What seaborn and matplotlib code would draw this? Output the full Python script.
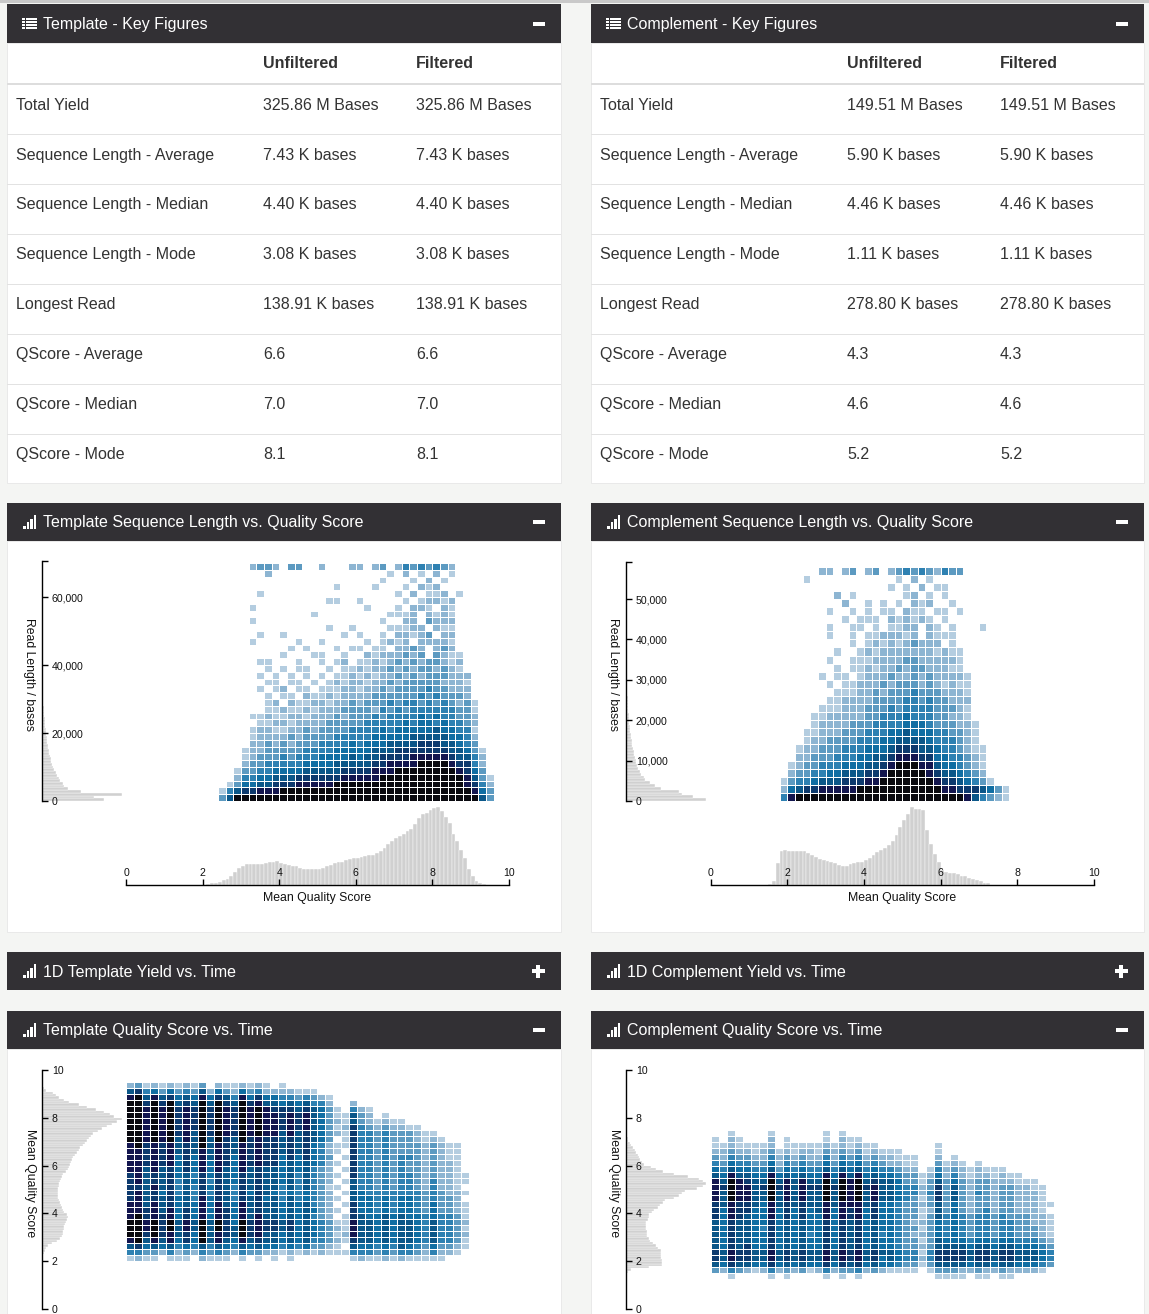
import numpy as np
import pandas as pd
import matplotlib
matplotlib.use("Agg")
import matplotlib.pyplot as plt
from matplotlib.colors import ListedColormap
from matplotlib.patches import Rectangle
import seaborn as sns

# ---------------------------------------------------------------- data
TABLE_ROWS = ["Total Yield", "Sequence Length - Average", "Sequence Length - Median",
              "Sequence Length - Mode", "Longest Read", "QScore - Average",
              "QScore - Median", "QScore - Mode"]
TABLE_COLS = ["Unfiltered", "Filtered"]
TPL_UNFILTERED = ["325.86 M Bases", "7.43 K bases", "4.40 K bases", "3.08 K bases",
                  "138.91 K bases", "6.6", "7.0", "8.1"]
TPL_FILTERED = list(TPL_UNFILTERED)
CMP_UNFILTERED = ["149.51 M Bases", "5.90 K bases", "4.46 K bases", "1.11 K bases",
                  "278.80 K bases", "4.3", "4.6", "5.2"]
CMP_FILTERED = list(CMP_UNFILTERED)

TITLES_LEFT = ["Template - Key Figures", "Template Sequence Length vs. Quality Score",
               "1D Template Yield vs. Time", "Template Quality Score vs. Time"]
TITLES_RIGHT = ["Complement - Key Figures", "Complement Sequence Length vs. Quality Score",
                "1D Complement Yield vs. Time", "Complement Quality Score vs. Time"]

# Template length-vs-quality 2D histogram (rows: top 68-70k ... bottom 0-2k; cols q 2.4..9.6 step 0.2)
TPL_HEAT_Q0, TPL_HEAT_QBIN, TPL_HEAT_LBIN = 2.4, 0.2, 2000
TPL_HEAT = [
    "000023 320330 020002 202302 434343 200000",
    "000000 200000 000000 000010 201020 100000",
    "000000 000000 000000 000100 010201 000000",
    "000000 000000 000100 001000 102120 000000",
    "000001 000000 000000 000001 020112 010000",
    "000000 000000 001100 100000 101221 200000",
    "000010 000000 000000 010001 022102 100000",
    "000000 000000 100000 000011 120212 100000",
    "000010 000000 000000 000100 220322 200000",
    "000000 000000 001001 000011 122021 100000",
    "000001 001000 000010 100102 212302 200000",
    "000010 000010 010000 010121 202222 100000",
    "000000 000101 000101 101102 232023 200000",
    "000000 001000 110010 021222 323032 110000",
    "000001 100010 010120 112123 232332 120000",
    "000000 101011 001011 212232 323323 210000",
    "000001 010101 010112 121223 232333 222000",
    "000000 110110 101212 212232 333332 221000",
    "000001 012011 011122 122323 333433 222000",
    "000000 101102 112122 223333 334343 332000",
    "000000 120211 221223 233343 443434 323100",
    "000000 112112 122233 332434 344444 433100",
    "000011 211221 222323 334344 445454 433200",
    "000001 122122 223333 344444 545545 443200",
    "000012 211223 233334 444545 555565 544100",
    "000012 222323 333444 445555 566666 554200",
    "000022 323233 344445 455566 667776 654300",
    "000122 333334 444555 556667 777777 665310",
    "000123 334344 455556 566777 788888 766420",
    "000233 444445 555666 667788 889999 877420",
    "001334 455556 666677 778889 999999 987530",
    "002445 566677 777788 888999 999999 998631",
    "013556 677788 888999 999999 999999 998742",
    "146778 889999 999999 999999 999999 999853",
    "369999 999999 999999 999999 999999 999963",
]

# Complement length-vs-quality 2D histogram (rows: top 56-58k ... 0-2k; cols q 1.6..8.0 step 0.2)
CMP_HEAT_Q0, CMP_HEAT_QBIN, CMP_HEAT_LBIN = 1.6, 0.2, 2000
CMP_HEAT = [
    "00000022 02302302 34343243 30000000",
    "00001000 00000000 10201000 00000000",
    "00000000 00000001 01020110 00000000",
    "00000000 20100000 01201010 00000000",
    "00000000 02001010 10212001 00000000",
    "00000001 00101011 02110110 10000000",
    "00000000 01011102 12121010 00000000",
    "00000001 00110101 12202101 00010000",
    "00000001 00101122 21202111 00000000",
    "00000000 00101212 12322201 00000000",
    "00000000 10012122 22222121 10000000",
    "00000001 00111222 23322222 10000000",
    "00000000 10112122 32332221 10000000",
    "00000010 11012223 22323222 21000000",
    "00000001 01122232 33323212 11000000",
    "00000000 11122323 33433322 21000000",
    "00000001 12222333 34434332 22000000",
    "00000011 12223334 34444333 21000000",
    "00000112 22223344 45444332 21000000",
    "00000122 22333444 45554333 22100000",
    "00001122 23334445 56555443 32100000",
    "00001223 33344455 66665444 32100000",
    "00012233 34445556 77766544 32110000",
    "00022333 44455667 88877554 43210000",
    "00123344 45556678 99988655 43210000",
    "00233445 56667789 99998766 54320000",
    "01344566 67778899 99999877 65431000",
    "02567788 88899999 99999988 77765310",
    "04899999 99999999 99999999 98643210",
]

# Read-length marginal histograms (bar lengths)
TPL_LEN_BIN = 800
TPL_LEN_HIST = [58, 49, 75, 37, 24, 21, 20, 17, 16, 14, 13, 11.5, 10.5, 9.5, 8.7, 8, 7.4, 6.8,
                6.3, 5.8, 5.4, 5.0, 4.7, 4.4, 4.1, 3.8, 3.5, 3.2, 2.9, 2.6, 2.4, 2.1, 1.9, 1.7,
                1.5, 1.3, 1.2, 1.0, 0.9, 0.8, 0.7, 0.6, 0.5, 0.45, 0.4, 0.35, 0.3, 0.25, 0.2, 0.2]
CMP_LEN_BIN = 700
CMP_LEN_HIST = [74, 62, 52, 49, 32, 27, 22, 18, 17, 14, 12.5, 11.5, 10.5, 9.5, 8.8, 8.2, 7.6, 7,
                6.5, 6, 5.6, 5.2, 4.8, 4.4, 4.1, 3.8, 3.5, 3.2, 2.9, 2.7, 2.5, 2.3, 2.1, 1.9, 1.7,
                1.5, 1.4, 1.2, 1.1, 1.0, 0.9, 0.8, 0.7, 0.6, 0.5, 0.4, 0.35, 0.3, 0.25, 0.2]

# Mean-quality marginal histograms (q bins of 0.1)
Q_BIN = 0.1
TPL_Q_START = 2.1
TPL_Q_HIST = [1, 2, 3, 4, 6, 8, 11, 17, 22, 25,
              27, 27, 27, 27, 27, 28, 29, 30, 31, 28,
              27, 26, 25, 24, 22, 21, 21, 20, 21, 20,
              22, 24, 26, 28, 29, 30, 32, 33, 34, 35,
              36, 37, 38, 39, 41, 44, 48, 52, 56, 60,
              63, 66, 69, 72, 78, 86, 91, 92, 96, 99,
              100, 95, 87, 79, 66, 56, 45, 34, 20, 11,
              5, 2, 1]
CMP_Q_START = 1.5
CMP_Q_HIST = [1, 5, 28, 44, 45, 43, 44, 43, 43, 43,
              41, 39, 36, 33, 32, 31, 30, 28, 26, 24,
              25, 27, 28, 29, 30, 32, 35, 38, 42, 45,
              48, 51, 57, 64, 74, 83, 91, 100, 98, 97,
              96, 70, 52, 40, 30, 19, 17, 16, 15, 14,
              12, 11, 9, 8, 7, 5, 3, 2]

# Quality-vs-time: quality marginal histograms
TPL_QT_Q_START = 2.1
TPL_QT_HIST = [0.5, 1, 1.5, 2.5, 4, 6, 10, 15, 18, 20,
               20.5, 21, 21.5, 22, 23, 24, 25, 26, 25, 22,
               21, 20, 19, 18, 17, 16, 16, 16, 16, 16,
               16.5, 17, 18, 19, 20, 21, 23.5, 26, 27, 28,
               29, 30, 31, 33, 35, 36.5, 38, 41, 43, 45,
               47, 49, 51, 56, 60, 65, 70, 75, 80, 72,
               68, 62, 54, 45, 37, 27, 22, 17, 14, 11,
               4, 2, 1]
CMP_QT_Q_START = 1.4
CMP_QT_HIST = [0.5, 2, 5, 23, 36, 36, 36, 35, 35, 35,
               35, 32, 30, 27, 24, 23, 21, 21, 21, 20,
               20, 20, 20, 22, 23, 23, 26, 28, 32, 34,
               37, 39, 48, 53, 56, 59, 71, 77, 80, 77,
               73, 62, 48, 37, 30, 25, 18, 16, 14, 13,
               12, 10, 9, 7, 5, 4, 2, 1.5, 1, 0.5]

# Quality-vs-time 2D histograms, one string per 1-hour column, quality bins 0.25 (bottom -> top)
TIME_BIN = 1.0
TIME_MAX = 48
TPL_QT_Q0, QT_QBIN = 1.75, 0.25
TPL_QT_COLS = [
    "01468 99988 87777 78888 89999 99986 2",
    "02479 99998 88878 88888 99999 99997 3",
    "01356 78877 66666 66777 78888 88764 1",
    "01368 99988 87787 78888 89999 99985 2",
    "00256 77776 66566 66777 78888 88763 1",
    "01468 89988 77777 77888 89999 99975 2",
    "01245 66655 55444 55556 66777 77653 1",
    "01357 78877 66666 67777 78888 88764 2",
    "00245 56655 54445 45556 66677 77653 1",
    "02469 99988 88777 78888 99999 99986 3",
    "01346 66655 55454 55566 66777 77652 0",
    "01468 89988 87777 78888 89999 99975 2",
    "01356 77777 66666 66777 77888 88763 1",
    "00245 66555 54445 55556 66777 77642 1",
    "01468 99988 87777 78888 89999 99985 2",
    "00356 77766 66566 66777 77888 88753 1",
    "01367 88887 77777 77888 88999 99874 2",
    "00256 67766 65666 66777 77888 88652 1",
    "01256 67766 66566 66777 77888 87652 0",
    "00145 56655 54445 55556 66677 77542 1",
    "01256 67766 66566 66677 77888 87642 0",
    "00145 55555 54444 45556 66677 76531 0",
    "00256 66666 65566 66677 77788 87641 0",
    "00134 55545 44444 44555 56666 66431 0",
    "00234 44433 33333 33444 45555 55420 0",
    "00123 33322 22212 22232 23333 33210 0",
    "00112 12101 01010 10101 10212 11000 0",
    "00101 21110 10101 01010 11121 10000 0",
    "01467 88877 76666 77777 77776 64200 0",
    "02456 66665 55544 44444 44443 32000 0",
    "01456 66655 55444 44444 44432 21000 0",
    "01345 55554 44433 33333 33321 00000 0",
    "02456 66665 55444 44444 44432 10000 0",
    "01345 55554 44433 33333 33321 00000 0",
    "02466 66665 55444 44443 33321 00000 0",
    "01456 66655 55444 43343 33310 00000 0",
    "01345 55554 44433 33333 32210 00000 0",
    "01234 44443 33322 22222 21100 00000 0",
    "01456 66655 54444 33333 32100 00000 0",
    "01234 44443 33322 22222 21000 00000 0",
    "00234 44443 33222 22211 10000 00000 0",
    "00123 33332 22211 11111 10000 00000 0",
    "00011 21211 10101 10000 00000 00000 0",
]
CMP_QT_Q0 = 1.25
CMP_QT_COLS = [
    "03677 66666 77788 88654 32110 0",
    "02566 55555 55666 76543 22100 0",
    "14788 77777 88899 99865 43221 0",
    "03677 66666 77788 88654 32110 0",
    "02677 76666 67788 87654 32100 0",
    "01566 55555 55666 66543 21100 0",
    "02566 55545 55566 76543 22100 0",
    "14788 77777 88899 99865 43221 0",
    "02566 55555 55666 76532 21000 0",
    "13677 66666 77788 88654 32110 0",
    "02566 55555 55666 66543 21100 0",
    "03677 66666 77788 88654 32100 0",
    "01566 55455 55666 76543 22100 0",
    "02566 55555 56666 76543 21100 0",
    "14788 77777 88899 99865 43211 0",
    "02566 55555 55666 76543 22100 0",
    "13788 77777 88899 99865 43221 0",
    "03677 66666 77888 88654 32110 0",
    "14788 77777 88899 99865 43210 0",
    "02566 55555 55666 76543 21100 0",
    "03677 66666 77788 87654 32100 0",
    "02556 55455 55566 66543 21000 0",
    "01566 55555 55566 66542 21000 0",
    "01455 44444 44455 55432 11000 0",
    "01344 33333 33344 43321 10000 0",
    "01344 33232 33334 43321 10000 0",
    "00121 21212 11212 21100 00000 0",
    "01344 33333 32334 33210 00000 0",
    "13677 66555 66677 76543 21100 0",
    "13677 65444 43333 33221 00000 0",
    "13677 65555 55566 65432 10000 0",
    "12677 65444 43333 33221 00000 0",
    "02566 54333 32222 22110 00000 0",
    "13677 65444 43334 33221 00000 0",
    "12677 65444 44333 33210 00000 0",
    "02566 54333 32222 22110 00000 0",
    "13677 65444 43333 32210 00000 0",
    "12677 65444 33333 32100 00000 0",
    "02566 54333 32222 21100 00000 0",
    "02566 54333 32222 21000 00000 0",
    "02566 54332 22222 11000 00000 0",
    "01455 43222 21111 10000 00000 0",
    "00344 32111 10100 00000 00000 0",
]

Q_TICKS = [0, 2, 4, 6, 8, 10]
TPL_LEN_TICKS = [0, 20000, 40000, 60000]
CMP_LEN_TICKS = [0, 10000, 20000, 30000, 40000, 50000]

# ---------------------------------------------------------------- style
sns.set_theme(style="white")
plt.rcParams['font.family'] = ['Liberation Sans', 'DejaVu Sans']

HDR = '#323034'
GREY = '#d0d0d0'
TXT = '#333333'
CMAP = ListedColormap(['#b4cde0', '#8db5d2', '#5c9ac1', '#2e81b2', '#106ea3',
                       '#0b5789', '#0d3a6e', '#13164f', '#09090f'])

W, H = 1149, 1314
fig = plt.figure(figsize=(W / 100, H / 100), dpi=100)
fig.patch.set_facecolor('#f4f5f3')


def box(x0, y0, x1, y1):
    return [x0 / W, 1 - y1 / H, (x1 - x0) / W, (y1 - y0) / H]


bg = fig.add_axes([0, 0, 1, 1])
bg.set_xlim(0, W)
bg.set_ylim(H, 0)
bg.set_axis_off()


def rect(x, y, w, h, c, ec='none', lw=0):
    bg.add_patch(Rectangle((x, y), w, h, facecolor=c, edgecolor=ec, lw=lw))


rect(0, 0, W, 3, '#c9c9c9')

HEADERS = [(4, 43), (503, 541), (952, 990), (1011, 1049)]
BODIES = [(43, 483), (541, 932), None, (1049, 1320)]
ICONS = ['list', 'bars', 'bars', 'bars']
BUTTONS = ['minus', 'minus', 'plus', 'minus']

for (x0, x1), titles in [((7, 561), TITLES_LEFT), ((591, 1144), TITLES_RIGHT)]:
    for i, ((hy0, hy1), body) in enumerate(zip(HEADERS, BODIES)):
        if body is not None:
            rect(x0, body[0], x1 - x0, body[1] - body[0], 'white', ec='#e6e6e6', lw=0.6)
        rect(x0, hy0, x1 - x0, hy1 - hy0, HDR)
        hc = (hy0 + hy1) / 2
        bg.text(x0 + 36, hc + 1, titles[i], color='white', fontsize=11.5, va='center', ha='left')
        if ICONS[i] == 'list':
            for k in range(4):
                yy = hc - 6 + k * 3.2
                rect(x0 + 15, yy, 2.6, 2.2, 'white')
                rect(x0 + 18.6, yy, 11.5, 2.2, 'white')
        else:
            base = hc + 6.5
            for bx, bh in [(16, 3), (19.6, 6.5), (23.2, 10), (26.8, 14)]:
                rect(x0 + bx, base - bh, 2.6, bh, 'white')
        if BUTTONS[i] == 'minus':
            rect(x1 - 28, hc - 2, 12, 4, 'white')
        else:
            rect(x1 - 29.5, hc - 2, 13, 4, 'white')
            rect(x1 - 25, hc - 6.5, 4, 13, 'white')

# ---------------------------------------------------------------- key-figure tables
ROW_Y = [105.5, 155.5, 204.5, 254.5, 304.5, 354.5, 404.5, 454.5]
LINE_Y = [134, 183.5, 233.5, 283.5, 333.5, 383.5, 433.5]
for x0, x1, unf, fil in [(7, 561, TPL_UNFILTERED, TPL_FILTERED), (591, 1144, CMP_UNFILTERED, CMP_FILTERED)]:
    bg.text(x0 + 256, 64, TABLE_COLS[0], fontsize=11.5, fontweight='bold', color=TXT, va='center')
    bg.text(x0 + 409, 64, TABLE_COLS[1], fontsize=11.5, fontweight='bold', color=TXT, va='center')
    rect(x0, 82.5, x1 - x0, 2, '#dddddd')
    for ly in LINE_Y:
        rect(x0, ly, x1 - x0, 1, '#e2e2e2')
    for ry, lab, a, b in zip(ROW_Y, TABLE_ROWS, unf, fil):
        bg.text(x0 + 9, ry, lab, fontsize=11.5, color=TXT, va='center')
        bg.text(x0 + 256, ry, a, fontsize=11.5, color=TXT, va='center')
        bg.text(x0 + 409, ry, b, fontsize=11.5, color=TXT, va='center')


# ---------------------------------------------------------------- helpers
def parse(rows):
    rows = ["".join(r.split()) for r in rows]
    n = max(len(r) for r in rows)
    return np.array([[int(c) for c in r.ljust(n, '0')[:n]] for r in rows], dtype=float)


def draw_heat(ax, mat, x0, y0, w, h):
    iax = ax.inset_axes([x0, y0, w, h], transform=ax.transData)
    sns.heatmap(mat, ax=iax, cmap=CMAP, vmin=0.5, vmax=9.5, mask=(mat == 0), cbar=False,
                linewidths=0.5, linecolor='white', xticklabels=False, yticklabels=False)
    iax.set_axis_off()


def hist_frame(pos_vals, weights):
    return pd.DataFrame({"pos": np.asarray(pos_vals, dtype=float),
                         "w": np.asarray(weights, dtype=float)})


def y_axis_hist(spine_x, x_end, ytop, ybot, ymax, ticks, labels, centers, edges, vals):
    yax = fig.add_axes(box(spine_x, ytop, x_end, ybot))
    yax.set_facecolor('none')
    sns.histplot(data=hist_frame(centers, vals), y="pos", weights="w", bins=list(edges),
                 ax=yax, color=GREY, edgecolor='white', linewidth=0.3, alpha=1)
    yax.set_ylim(0, ymax)
    yax.set_xlim(0, max(vals) * (x_end - spine_x) / 80.0)
    for s in ['top', 'right', 'bottom']:
        yax.spines[s].set_visible(False)
    yax.spines['left'].set_color('black')
    yax.spines['left'].set_linewidth(1.0)
    yax.set_xticks([])
    yax.set_yticks(ticks)
    yax.set_yticklabels(labels)
    yax.set_yticks([ymax], minor=True)
    yax.tick_params(axis='y', which='both', left=True, direction='in', length=4, width=1,
                    color='black', pad=-7.2, labelsize=7.6, labelcolor='#111111')
    for lbl in yax.get_yticklabels():
        lbl.set_ha('left')
    yax.set_axisbelow(False)
    yax.set_xlabel('')
    yax.set_ylabel('')
    return yax


def x_axis_hist(mx0, mx1, ytop, ybot, q0, vals):
    xax = fig.add_axes(box(mx0, ytop, mx1, ybot))
    xax.set_facecolor('none')
    edges = q0 + np.arange(len(vals) + 1) * Q_BIN
    centers = edges[:-1] + Q_BIN / 2
    sns.histplot(data=hist_frame(centers, vals), x="pos", weights="w", bins=list(edges),
                 ax=xax, color=GREY, edgecolor='white', linewidth=0.3, alpha=1)
    xax.set_xlim(0, 10)
    xax.set_ylim(0, max(vals) * (ybot - ytop) / 78.0)
    for s in ['top', 'right', 'left']:
        xax.spines[s].set_visible(False)
    xax.spines['bottom'].set_color('black')
    xax.spines['bottom'].set_linewidth(1.0)
    xax.set_yticks([])
    xax.set_xticks(Q_TICKS)
    xax.set_xticklabels([str(t) for t in Q_TICKS])
    xax.tick_params(axis='x', bottom=True, direction='in', length=4.3, width=1, color='black',
                    pad=-5.4, labelsize=7.6, labelcolor='#111111')
    for lbl in xax.get_xticklabels():
        lbl.set_va('bottom')
    xax.set_axisbelow(False)
    xax.set_xlabel('')
    xax.set_ylabel('')


def scatter_panel(spine_x, mx0, mx1, ytop, ybot, ymax, ticks, heat, hq0, hqbin, hlbin,
                  len_hist, len_bin, q_hist, q_start, ylabel_x):
    ax = fig.add_axes(box(mx0, ytop, mx1, ybot))
    ax.set_xlim(0, 10)
    ax.set_ylim(0, ymax)
    ax.set_axis_off()
    mat = parse(heat)
    nr, nc = mat.shape
    draw_heat(ax, mat, hq0, 0, nc * hqbin, nr * hlbin)
    edges = np.arange(len(len_hist) + 1) * len_bin
    y_axis_hist(spine_x, mx0, ytop, ybot, ymax, ticks, [f"{t:,}" for t in ticks],
                edges[:-1] + len_bin / 2, edges, len_hist)
    x_axis_hist(mx0, mx1, 806, 885, q_start, q_hist)
    bg.text((mx0 + mx1) / 2, 898, "Mean Quality Score", fontsize=8.8, ha='center', va='center', color='#111111')
    bg.text(ylabel_x, 674, "Read Length / bases", fontsize=8.8, rotation=270, ha='center', va='center', color='#111111')


def qvt_panel(spine_x, mx0, mx1, cols, q_lo, q_hist, q_start, ylabel_x):
    ytop, ybot = 1070, 1309
    ax = fig.add_axes(box(mx0, ytop, mx1, ybot))
    ax.set_xlim(0, TIME_MAX)
    ax.set_ylim(0, 10)
    ax.set_axis_off()
    mat = parse(cols).T[::-1]
    nr, nc = mat.shape
    draw_heat(ax, mat, 0, q_lo, nc * TIME_BIN, nr * QT_QBIN)
    edges = q_start + np.arange(len(q_hist) + 1) * Q_BIN
    y_axis_hist(spine_x, mx0, ytop, ybot, 10, Q_TICKS, [str(t) for t in Q_TICKS],
                edges[:-1] + Q_BIN / 2, edges, q_hist)
    bg.text(ylabel_x, 1183, "Mean Quality Score", fontsize=8.8, rotation=270, ha='center', va='center', color='#111111')


# ---------------------------------------------------------------- charts
scatter_panel(42, 126, 509, 561, 801, 70600, TPL_LEN_TICKS, TPL_HEAT, TPL_HEAT_Q0, TPL_HEAT_QBIN,
              TPL_HEAT_LBIN, TPL_LEN_HIST, TPL_LEN_BIN, TPL_Q_HIST, TPL_Q_START, 29)
scatter_panel(626, 710.7, 1093.7, 562, 801, 59160, CMP_LEN_TICKS, CMP_HEAT, CMP_HEAT_Q0, CMP_HEAT_QBIN,
              CMP_HEAT_LBIN, CMP_LEN_HIST, CMP_LEN_BIN, CMP_Q_HIST, CMP_Q_START, 613)
qvt_panel(42, 126, 509, TPL_QT_COLS, TPL_QT_Q0, TPL_QT_HIST, TPL_QT_Q_START, 30)
qvt_panel(626, 710.7, 1093.7, CMP_QT_COLS, CMP_QT_Q0, CMP_QT_HIST, CMP_QT_Q_START, 614)

fig.savefig("out.png", dpi=100, facecolor=fig.get_facecolor())
